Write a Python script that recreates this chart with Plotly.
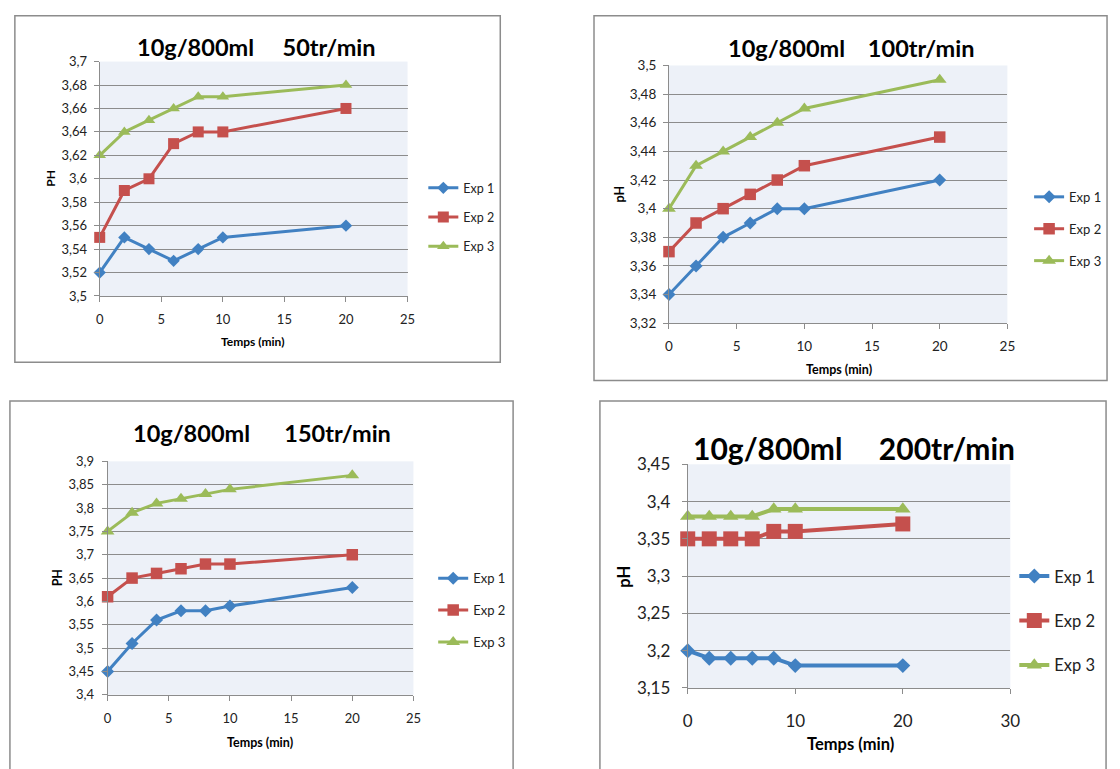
import plotly.graph_objects as go

# Sampling times (min)
time_min = [0, 2, 4, 6, 8, 10, 20]

# pH readings, 10 g / 800 ml, at 50 tr/min
ph50_exp1 = [3.52, 3.55, 3.54, 3.53, 3.54, 3.55, 3.56]
ph50_exp2 = [3.55, 3.59, 3.60, 3.63, 3.64, 3.64, 3.66]
ph50_exp3 = [3.62, 3.64, 3.65, 3.66, 3.67, 3.67, 3.68]

# 100 tr/min
ph100_exp1 = [3.34, 3.36, 3.38, 3.39, 3.40, 3.40, 3.42]
ph100_exp2 = [3.37, 3.39, 3.40, 3.41, 3.42, 3.43, 3.45]
ph100_exp3 = [3.40, 3.43, 3.44, 3.45, 3.46, 3.47, 3.49]

# 150 tr/min
ph150_exp1 = [3.45, 3.51, 3.56, 3.58, 3.58, 3.59, 3.63]
ph150_exp2 = [3.61, 3.65, 3.66, 3.67, 3.68, 3.68, 3.70]
ph150_exp3 = [3.75, 3.79, 3.81, 3.82, 3.83, 3.84, 3.87]

# 200 tr/min
ph200_exp1 = [3.20, 3.19, 3.19, 3.19, 3.19, 3.18, 3.18]
ph200_exp2 = [3.35, 3.35, 3.35, 3.35, 3.36, 3.36, 3.37]
ph200_exp3 = [3.38, 3.38, 3.38, 3.38, 3.39, 3.39, 3.39]

series_names = ["Exp 1", "Exp 2", "Exp 3"]
NB = "\u00a0"
chart_titles = ["10g/800ml" + NB * 5 + "50tr/min",
                "10g/800ml" + NB * 4 + "100tr/min",
                "10g/800ml" + NB * 6 + "150tr/min",
                "10g/800ml" + NB * 5 + "200tr/min"]
y_titles = ["PH", "pH", "PH", "pH"]
x_title = "Temps (min)"

W, H = 1120, 769
FONT = "Lato, Carlito, 'Open Sans', sans-serif"
COLORS = ["#4181C2", "#C5504D", "#9BBB59"]
SYMBOLS = ["diamond", "square", "triangle-up"]
GRID = "#8C8C8C"
PLOT_BG = "#EDF1F8"
FRAME = "#8C8C8C"


def fx(p):
    return p / W


def fy(p):
    return 1 - p / H


# Layout of each chart panel, in pixels
panels = [
    dict(data=[ph50_exp1, ph50_exp2, ph50_exp3], plot=(96, 408, 52, 293),
         frame=(10, 502, 5, 361), xr=[0, 25], xd=5, yr=[3.5, 3.7], yd=0.02,
         title=(255, 37, 23.5), ytl=(46, 172), xtl=(251, 340), tick=13, axt=12,
         std=(6, 4), leg=(424, 212, 12.5, 10), msize=(9.5, 11, 11), lw=3),
    dict(data=[ph100_exp1, ph100_exp2, ph100_exp3], plot=(673, 1016, 56, 321),
         frame=(597, 1117, 5, 380), xr=[0, 25], xd=5, yr=[3.32, 3.5], yd=0.02,
         title=(857, 38, 23.5), ytl=(623, 188), xtl=(845, 369), tick=13.5, axt=12.5,
         std=(6, 4), leg=(1038, 224, 13, 12), msize=(10, 11.5, 12), lw=3),
    dict(data=[ph150_exp1, ph150_exp2, ph150_exp3], plot=(104, 414, 463, 703),
         frame=(5, 515, 401, 790), xr=[0, 25], xd=5, yr=[3.4, 3.9], yd=0.05,
         title=(260, 434, 23.5), ytl=(53, 583), xtl=(258, 752), tick=13, axt=12.5,
         std=(7, 5), leg=(434, 616, 13, 12), msize=(10, 11.5, 12), lw=3),
    dict(data=[ph200_exp1, ph200_exp2, ph200_exp3], plot=(692, 1019, 466, 696),
         frame=(603, 1116, 401, 790), xr=[0, 30], xd=10, yr=[3.15, 3.45], yd=0.05,
         title=(861, 449, 30), ytl=(628, 582), xtl=(857, 754), tick=17, axt=16.5,
         std=(13, 8), leg=(1023, 627, 16.5, 20), msize=(11.5, 15, 13.5), lw=4),
]

fig = go.Figure()
layout = dict(width=W, height=H, margin=dict(l=0, r=0, t=0, b=0),
              paper_bgcolor="white", plot_bgcolor=PLOT_BG,
              separators=", ", showlegend=True,
              font=dict(family=FONT, color="#000000"))
shapes, annotations = [], []

for i, p in enumerate(panels):
    k = "" if i == 0 else str(i + 1)
    legend_id = "legend" + k
    x0, x1, y0, y1 = p["plot"]
    for j in range(3):
        fig.add_trace(go.Scatter(
            x=time_min, y=p["data"][j], name=series_names[j],
            mode="lines+markers", xaxis="x" + k, yaxis="y" + k,
            legend=legend_id, legendgroup=f"g{i}{j}",
            line=dict(color=COLORS[j], width=p["lw"]),
            marker=dict(symbol=SYMBOLS[j], size=p["msize"][j], color=COLORS[j]),
            cliponaxis=False,
        ))

    xs, ys = p["std"]
    layout["xaxis" + k] = dict(
        domain=[fx(x0), fx(x1)], anchor="y" + k, range=p["xr"], dtick=p["xd"],
        tick0=0, showgrid=False, zeroline=False, showline=True, linecolor=GRID,
        linewidth=1, ticks="outside", ticklen=5, tickcolor=GRID,
        ticklabelstandoff=xs,
        tickfont=dict(size=p["tick"], color="#222"), fixedrange=True)
    layout["yaxis" + k] = dict(
        domain=[fy(y1), fy(y0)], anchor="x" + k, range=p["yr"], dtick=p["yd"],
        tick0=p["yr"][0], tickformat=".2~f", showgrid=True, gridcolor=GRID,
        gridwidth=1, zeroline=False, showline=True, linecolor=GRID, linewidth=1,
        ticks="outside", ticklen=5, tickcolor=GRID, ticklabelstandoff=ys,
        tickfont=dict(size=p["tick"], color="#222"), fixedrange=True)

    lx, ly, lfs, lgap = p["leg"]
    layout[legend_id] = dict(
        x=fx(lx), y=fy(ly), xanchor="left", yanchor="middle",
        xref="paper", yref="paper", traceorder="grouped",
        tracegroupgap=lgap, bgcolor="rgba(0,0,0,0)",
        font=dict(size=lfs, family=FONT, color="#222"), itemwidth=30)

    fr = p["frame"]
    shapes.append(dict(type="rect", xref="paper", yref="paper",
                       x0=fx(fr[0]), x1=fx(fr[1]), y0=fy(fr[3]), y1=fy(fr[2]),
                       line=dict(color=FRAME, width=1.5), fillcolor="rgba(0,0,0,0)",
                       layer="below"))

    tx, ty, tfs = p["title"]
    annotations.append(dict(text=f"<b>{chart_titles[i]}</b>", x=fx(tx), y=fy(ty),
                            xref="paper", yref="paper", showarrow=False,
                            xanchor="center", yanchor="middle",
                            font=dict(size=tfs, family=FONT, color="#000")))
    annotations.append(dict(text=f"<b>{y_titles[i]}</b>", x=fx(p["ytl"][0]),
                            y=fy(p["ytl"][1]), xref="paper", yref="paper",
                            showarrow=False, textangle=-90,
                            xanchor="center", yanchor="middle",
                            font=dict(size=p["axt"], family=FONT, color="#000")))
    annotations.append(dict(text=f"<b>{x_title}</b>", x=fx(p["xtl"][0]),
                            y=fy(p["xtl"][1]), xref="paper", yref="paper",
                            showarrow=False, xanchor="center", yanchor="middle",
                            font=dict(size=p["axt"], family=FONT, color="#000")))

layout["shapes"] = shapes
layout["annotations"] = annotations
fig.update_layout(**layout)
fig.write_html("out.html")
